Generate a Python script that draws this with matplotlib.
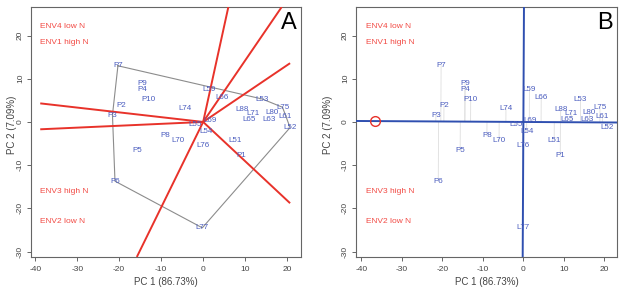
import matplotlib
matplotlib.use('Agg')
import matplotlib.pyplot as plt
import numpy as np

plt.rcParams['font.family'] = ['Liberation Sans', 'DejaVu Sans']

# ---------------- data ----------------
genotypes = ['P7', 'P9', 'P4', 'P10', 'P2', 'P3', 'L74', 'L59', 'L66', 'L53',
             'L75', 'L88', 'L71', 'L80', 'L61', 'L65', 'L63', 'L52', 'L69',
             'L55', 'L54', 'P8', 'L70', 'L51', 'L76', 'P1', 'P5', 'P6', 'L77']
pc1 = [-20.3, -14.4, -14.4, -13.0, -19.6, -21.6, -4.3, 1.5, 4.4, 14.1,
       18.9, 9.2, 11.8, 16.3, 19.5, 10.9, 15.8, 20.7, 1.7,
       -1.9, 0.8, -9.0, -6.0, 7.6, 0.0, 9.1, -15.6, -21.0, -0.2]
pc2 = [13.0, 8.8, 7.4, 5.1, 3.7, 1.6, 3.0, 7.6, 5.6, 5.3,
       3.4, 2.8, 1.9, 2.1, 1.2, 0.5, 0.5, -1.3, 0.3,
       -0.7, -2.3, -3.2, -4.4, -4.4, -5.5, -7.7, -6.7, -13.7, -24.5]

hull_order = ['P7', 'L53', 'L75', 'L52', 'L77', 'P6', 'P3']

sector_end_pc1 = [-38.8, -38.8, 6.0, 18.7, 20.7, 20.7, -15.8]
sector_end_pc2 = [4.3, -1.7, 26.6, 26.6, 13.6, -18.8, -31.25]

env_labels = ['ENV4 low N', 'ENV1 high N', 'ENV3 high N', 'ENV2 low N']
env_label_pc1 = [-38.8, -38.8, -38.8, -38.8]
env_label_pc2 = [22.2, 18.4, -16.0, -23.0]

avg_env = [-36.6, 0.2]

x_ticks = [-40, -30, -20, -10, 0, 10, 20]
y_ticks = [-30, -20, -10, 0, 10, 20]
x_label = 'PC 1 (86.73%)'
y_label = 'PC 2 (7.09%)'

# ---------------- style ----------------
W, H = 620, 288
fig = plt.figure(figsize=(W / 100, H / 100), dpi=100)

BLUE_TXT = '#4a5cbf'
RED_LINE = '#e8322a'
RED_TXT = '#f24a44'
BLUE_LINE = '#2f4fb0'
SPINE = '#666666'
TICK_TXT = '#444444'


def px_axes(left, top, right, bottom):
    return fig.add_axes([left / W, 1 - bottom / H, (right - left) / W, (bottom - top) / H])


def style_axes(ax, xlim, ylim):
    ax.set_xlim(*xlim)
    ax.set_ylim(*ylim)
    ax.set_xticks(x_ticks)
    ax.set_yticks(y_ticks)
    ax.set_xticklabels([str(v) for v in x_ticks])
    ax.set_yticklabels([str(v) for v in y_ticks], rotation=90, va='center')
    ax.tick_params(direction='out', length=3, width=0.7, colors=SPINE,
                   labelcolor=TICK_TXT, labelsize=6)
    ax.tick_params(axis='x', pad=3.5)
    ax.tick_params(axis='y', pad=2)
    for s in ax.spines.values():
        s.set_color(SPINE)
        s.set_linewidth(0.8)


def draw_common(ax):
    for name, x, y in zip(genotypes, pc1, pc2):
        ax.text(x, y, name, color=BLUE_TXT, fontsize=5.8, ha='center',
                va='center', zorder=5)
    for lab, x, y in zip(env_labels, env_label_pc1, env_label_pc2):
        ax.text(x, y, lab, color=RED_TXT, fontsize=6, ha='left', va='center',
                zorder=5)


# ---------------- panel A ----------------
axA = px_axes(31, 7, 301, 257)
style_axes(axA, (-41.0, 23.3), (-31.25, 26.6))
idx = {g: i for i, g in enumerate(genotypes)}
hx = [pc1[idx[g]] for g in hull_order] + [pc1[idx[hull_order[0]]]]
hy = [pc2[idx[g]] for g in hull_order] + [pc2[idx[hull_order[0]]]]
axA.plot(hx, hy, color='#8c8c8c', lw=0.8, zorder=2)
for ex, ey in zip(sector_end_pc1, sector_end_pc2):
    axA.plot([0, ex], [0, ey], color=RED_LINE, lw=1.4, zorder=3,
             solid_capstyle='butt')
draw_common(axA)
axA.text(0.985, 0.936, 'A', transform=axA.transAxes, fontsize=17,
         ha='right', va='center', color='black')

# ---------------- panel B ----------------
axB = px_axes(356, 7, 617, 257)
xlimB, ylimB = (-41.3, 23.1), (-31.25, 26.6)
style_axes(axB, xlimB, ylimB)
d = np.array(avg_env, dtype=float)
d = d / np.linalg.norm(d)
for x, y in zip(pc1, pc2):
    p = np.array([x, y])
    proj = np.dot(p, d) * d
    axB.plot([x, proj[0]], [y, proj[1]], color='#dedede', lw=0.6, zorder=1)
# average environment axis (through origin) and its perpendicular
t = np.array([-60, 60])
axB.plot(t * d[0], t * d[1], color=BLUE_LINE, lw=1.4, zorder=3)
axB.plot(-t * d[1], t * d[0], color=BLUE_LINE, lw=1.4, zorder=3)
axB.plot([avg_env[0]], [avg_env[1]], marker='o', markersize=7,
         markerfacecolor='none', markeredgecolor=RED_LINE, markeredgewidth=1.0,
         zorder=4)
axB.set_xlim(*xlimB)
axB.set_ylim(*ylimB)
draw_common(axB)
axB.text(0.985, 0.936, 'B', transform=axB.transAxes, fontsize=17,
         ha='right', va='center', color='black')

# ---------------- axis labels ----------------
for cx in [(31 + 301) / 2, (356 + 617) / 2]:
    fig.text(cx / W, 1 / H, x_label, ha='center', va='bottom',
             fontsize=7, color=TICK_TXT)
for lx in [12, 328]:
    fig.text(lx / W, 1 - 125 / H, y_label, ha='center', va='center',
             rotation=90, fontsize=7, color=TICK_TXT)

fig.savefig('out.png', dpi=100)
